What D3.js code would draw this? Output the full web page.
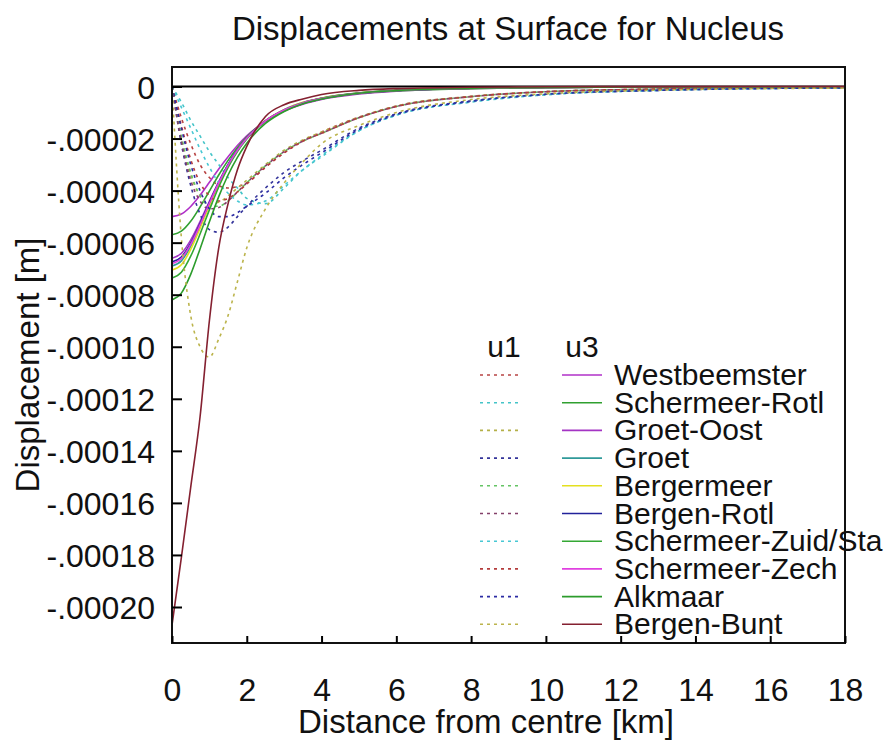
<!DOCTYPE html>
<html>
<head>
<meta charset="utf-8">
<script src="https://cdn.jsdelivr.net/npm/d3@7"></script>
<style>
  html, body { margin: 0; padding: 0; background: #fff; }
  svg { display: block; font-family: "Liberation Sans", Arial, sans-serif; }
</style>
</head>
<body>
<svg id="chart" width="884" height="749"></svg>
<script>
// ---------------- DATA (displacements in micrometres) ----------------
const distanceKm = [0, 0.25, 0.5, 0.75, 1, 1.25, 1.5, 1.75, 2, 2.5, 3, 3.5, 4, 5, 6, 8, 10, 13, 18];

const stationNames = ["Westbeemster", "Schermeer-Rotl", "Groet-Oost", "Groet", "Bergermeer",
  "Bergen-Rotl", "Schermeer-Zuid/Sta", "Schermeer-Zech", "Alkmaar", "Bergen-Bunt"];

// horizontal displacement u1 (dotted)
const u1Westbeemster   = [0, -12, -22, -30, -35, -38, -39, -38.5, -37, -31, -25.5, -21, -17.5, -11.8, -7.5, -3.8, -2, -1, -0.4];
const u1SchermeerRotl  = [0, -6, -13, -19, -25, -30, -35, -39, -43, -45, -39, -32, -27, -17, -11, -6, -3.2, -1.5, -0.5];
const u1GroetOost      = [0, -20, -34, -42, -45, -44.5, -42, -39, -36, -30, -24.5, -20.5, -17.5, -11.8, -7.5, -3.8, -2, -1, -0.4];
const u1Groet          = [0, -22, -38, -49, -55, -56, -54, -50, -46, -39, -33, -28.5, -24.5, -16, -10.5, -5.5, -3, -1.5, -0.5];
const u1Bergermeer     = [0, -19, -33, -42, -46, -46, -44, -40.5, -37, -30.5, -25, -21, -18, -12, -7.7, -3.9, -2, -1, -0.4];
const u1BergenRotl     = [0, -21, -36, -44, -47, -46.5, -44, -40.5, -37, -30.5, -25, -21, -18, -12, -7.7, -3.9, -2, -1, -0.4];
const u1SchermeerZuid  = [0, -8, -16, -24, -31, -37, -41, -44, -45.5, -44, -38, -32, -26.5, -17, -11, -5.8, -3.1, -1.5, -0.5];
const u1SchermeerZech  = [0, -15, -28, -37, -42, -44, -43, -40.5, -37.5, -31, -25.5, -21, -18, -12, -7.7, -3.9, -2, -1, -0.4];
const u1Alkmaar        = [0, -16, -30, -40, -47, -50, -50, -48.5, -46, -41, -35, -30, -25.5, -16.5, -10.8, -5.7, -3, -1.5, -0.5];
const u1BergenBunt     = [0, -58, -88, -100, -104, -97, -88, -75, -62, -47, -37, -29, -22, -15, -10, -5, -2.8, -1.4, -0.6];

// vertical displacement u3 (solid)
const u3Westbeemster   = [-50, -49, -46.1, -41.8, -36.8, -31.7, -27, -22.7, -19, -13.3, -9.4, -6.8, -5, -2.9, -1.8, -0.8, -0.4, -0.2, -0.1];
const u3SchermeerRotl  = [-57, -55.6, -51.8, -46.3, -40.2, -34, -28.4, -23.5, -19.4, -13.3, -9.2, -6.6, -4.8, -2.7, -1.7, -0.8, -0.4, -0.2, -0.1];
const u3GroetOost      = [-66, -64.1, -59, -51.9, -44.1, -36.6, -30, -24.3, -19.8, -13.2, -9, -6.3, -4.6, -2.6, -1.6, -0.7, -0.4, -0.2, -0.1];
const u3Groet          = [-69, -67, -61.4, -53.6, -45.2, -37.1, -30.1, -24.4, -19.8, -13.2, -8.9, -6.2, -4.5, -2.5, -1.5, -0.7, -0.4, -0.2, -0.1];
const u3Bergermeer     = [-70.5, -68.5, -62.6, -54.5, -45.8, -37.5, -30.3, -24.5, -19.8, -13.1, -8.9, -6.1, -4.4, -2.5, -1.5, -0.7, -0.4, -0.2, -0.1];
const u3BergenRotl     = [-67.4, -65.5, -60.2, -52.8, -44.6, -36.8, -30, -24.4, -19.8, -13.2, -9, -6.3, -4.6, -2.6, -1.6, -0.7, -0.4, -0.2, -0.1];
const u3SchermeerZuid  = [-73.6, -71.4, -65.2, -56.7, -47.4, -38.6, -31.1, -25, -20.2, -13.4, -9.1, -6.3, -4.5, -2.5, -1.5, -0.7, -0.4, -0.2, -0.1];
const u3SchermeerZech  = [-68, -66.1, -60.7, -53.2, -44.9, -37, -30.2, -24.5, -19.9, -13.2, -9, -6.3, -4.6, -2.6, -1.6, -0.7, -0.4, -0.2, -0.1];
const u3Alkmaar        = [-82, -79.4, -72.2, -62.4, -52, -42.3, -34, -27.2, -21.8, -14.2, -9.6, -6.6, -4.8, -2.6, -1.6, -0.7, -0.4, -0.2, -0.1];
const u3BergenBunt     = [-207, -181, -154, -127, -90, -62, -45, -32, -23, -11.5, -7, -4.8, -3.1, -1.5, -0.8, -0.3, -0.1, -0.05, 0];

const u1Series = [u1Westbeemster, u1SchermeerRotl, u1GroetOost, u1Groet, u1Bergermeer,
  u1BergenRotl, u1SchermeerZuid, u1SchermeerZech, u1Alkmaar, u1BergenBunt];
const u3Series = [u3Westbeemster, u3SchermeerRotl, u3GroetOost, u3Groet, u3Bergermeer,
  u3BergenRotl, u3SchermeerZuid, u3SchermeerZech, u3Alkmaar, u3BergenBunt];

const u1Colors = ["#b84444", "#44c4c8", "#b4b048", "#34349a", "#64c464",
  "#84406a", "#48c8d4", "#b43c3c", "#2c2ca4", "#bcb44c"];
const u3Colors = ["#b030c8", "#30a030", "#a434c4", "#309a9a", "#e4e020",
  "#22229a", "#34a834", "#e040e0", "#2c9c2c", "#842030"];

const xTickValues = [0, 2, 4, 6, 8, 10, 12, 14, 16, 18];
const yTickValues = [0, -20, -40, -60, -80, -100, -120, -140, -160, -180, -200];
const yTickLabels = ["0", "-.00002", "-.00004", "-.00006", "-.00008", "-.00010",
  "-.00012", "-.00014", "-.00016", "-.00018", "-.00020"];

// ---------------- LAYOUT ----------------
const svg = d3.select("#chart");
const plotLeft = 172, plotRight = 845, plotTop = 67, plotBottom = 643;

const x = d3.scaleLinear().domain([0, 18]).range([plotLeft, plotRight]);
const y = d3.scaleLinear().domain([0, -200]).range([86.5, 607]);

// zero line
svg.append("line")
  .attr("x1", plotLeft).attr("x2", plotRight)
  .attr("y1", y(0)).attr("y2", y(0))
  .attr("stroke", "#000").attr("stroke-width", 2);

// curves
const line = d3.line()
  .x((d, i) => x(distanceKm[i]))
  .y(d => y(d))
  .curve(d3.curveMonotoneX);

svg.append("clipPath").attr("id", "plotclip")
  .append("rect").attr("x", plotLeft).attr("y", plotTop)
  .attr("width", plotRight - plotLeft).attr("height", plotBottom - plotTop);

const plot = svg.append("g").attr("clip-path", "url(#plotclip)");
stationNames.forEach((name, i) => {
  plot.append("path")
    .attr("d", line(u1Series[i]))
    .attr("fill", "none")
    .attr("stroke", u1Colors[i])
    .attr("stroke-width", 1.6)
    .attr("stroke-dasharray", "3,4");
  plot.append("path")
    .attr("d", line(u3Series[i]))
    .attr("fill", "none")
    .attr("stroke", u3Colors[i])
    .attr("stroke-width", 1.6);
});

// frame
svg.append("rect")
  .attr("x", plotLeft).attr("y", plotTop)
  .attr("width", plotRight - plotLeft).attr("height", plotBottom - plotTop)
  .attr("fill", "none").attr("stroke", "#111").attr("stroke-width", 2);

// y axis (ticks inside)
const yAxis = d3.axisLeft(y)
  .tickValues(yTickValues)
  .tickSizeInner(-10).tickSizeOuter(0)
  .tickFormat((d, i) => yTickLabels[i]);
const gy = svg.append("g").attr("transform", `translate(${plotLeft},0)`).call(yAxis);
gy.select(".domain").remove();
gy.selectAll(".tick line").attr("stroke", "#000").attr("stroke-width", 2);
gy.selectAll(".tick text")
  .attr("x", -17).attr("dy", "0.36em")
  .attr("font-size", 32).attr("fill", "#111")
  .attr("font-family", "'Liberation Sans', Arial, sans-serif");

// x axis (ticks inside)
const xAxis = d3.axisBottom(x)
  .tickValues(xTickValues)
  .tickSizeInner(-7).tickSizeOuter(0)
  .tickFormat(d3.format("d"));
const gx = svg.append("g").attr("transform", `translate(0,${plotBottom})`).call(xAxis);
gx.select(".domain").remove();
gx.selectAll(".tick line").attr("stroke", "#000").attr("stroke-width", 2);
gx.selectAll(".tick text")
  .attr("y", 58).attr("dy", 0)
  .attr("font-size", 32).attr("fill", "#111")
  .attr("font-family", "'Liberation Sans', Arial, sans-serif");

// title & axis labels
svg.append("text")
  .attr("x", 508).attr("y", 40)
  .attr("text-anchor", "middle")
  .attr("font-size", 33).attr("fill", "#111")
  .text("Displacements at Surface for Nucleus");

svg.append("text")
  .attr("x", 486).attr("y", 733)
  .attr("text-anchor", "middle")
  .attr("font-size", 33).attr("fill", "#111")
  .text("Distance from centre [km]");

svg.append("text")
  .attr("transform", "translate(39,365) rotate(-90)")
  .attr("text-anchor", "middle")
  .attr("font-size", 33).attr("fill", "#111")
  .text("Displacement [m]");

// legend
const legendTop = 375, legendStep = 27.7;
const lg = svg.append("g");
lg.append("text").attr("x", 504).attr("y", 357).attr("text-anchor", "middle")
  .attr("font-size", 30).attr("fill", "#111").text("u1");
lg.append("text").attr("x", 582).attr("y", 357).attr("text-anchor", "middle")
  .attr("font-size", 30).attr("fill", "#111").text("u3");

stationNames.forEach((name, i) => {
  const ly = legendTop + i * legendStep;
  lg.append("line").attr("x1", 480).attr("x2", 518).attr("y1", ly).attr("y2", ly)
    .attr("stroke", u1Colors[i]).attr("stroke-width", 1.6).attr("stroke-dasharray", "3,4");
  lg.append("line").attr("x1", 562).attr("x2", 602).attr("y1", ly).attr("y2", ly)
    .attr("stroke", u3Colors[i]).attr("stroke-width", 1.6);
  lg.append("text").attr("x", 614).attr("y", ly + 10)
    .attr("font-size", 30).attr("fill", "#111").text(name);
});
</script>
</body>
</html>
